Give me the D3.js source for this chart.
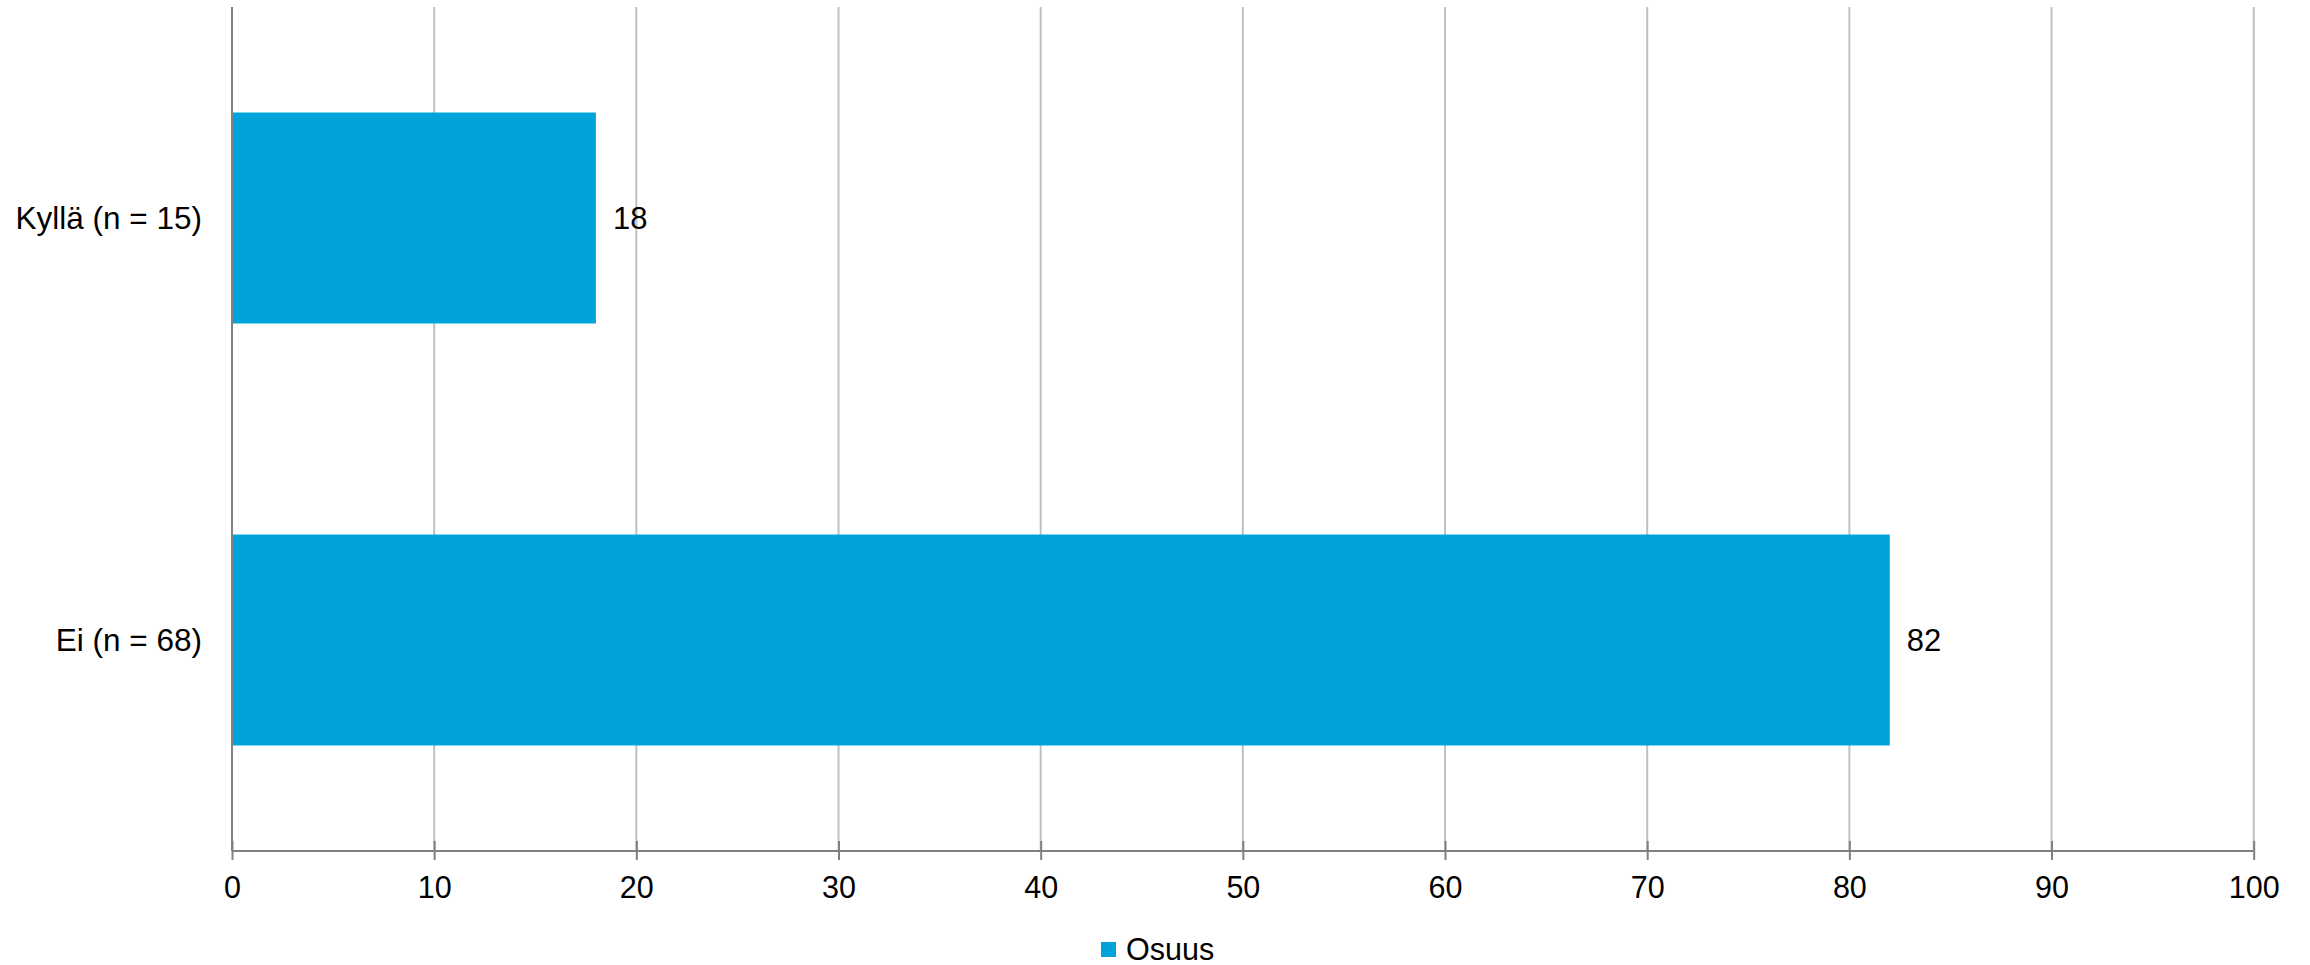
<!DOCTYPE html>
<html><head><meta charset="utf-8">
<script src="https://cdn.jsdelivr.net/npm/d3@7"></script>
<style>body{margin:0;background:#fff}svg{display:block}text{font-family:"Liberation Sans",Arial,sans-serif;fill:#000}</style>
</head><body>
<svg id="c" width="2310" height="965"></svg>
<script>
const categories = ["Kyllä (n = 15)", "Ei (n = 68)"];
const values = [18, 82];
const seriesName = "Osuus";
const xTicks = [0,10,20,30,40,50,60,70,80,90,100];

const svg = d3.select("#c");
const pL = 232, pR = 2253.7, pT = 7, pB = 851;
const x = d3.scaleLinear().domain([0,100]).range([pL,pR]);
const y = d3.scaleBand().domain(categories).range([pT,pB]).paddingInner(0.5).paddingOuter(0.25);
const color = "#02A3DA";

// gridlines
svg.append("g").selectAll("line").data(xTicks.filter(d=>d>0)).join("line")
  .attr("x1",d=>x(d)).attr("x2",d=>x(d)).attr("y1",pT).attr("y2",pB)
  .attr("stroke","#c0c0c0").attr("stroke-width",2);

// bars
svg.append("g").selectAll("rect").data(values).join("rect")
  .attr("x",x(0)).attr("y",(d,i)=>y(categories[i]))
  .attr("width",d=>x(d)-x(0)).attr("height",y.bandwidth()).attr("fill",color);

// x axis
const xAxis = d3.axisBottom(x).tickValues(xTicks).tickSize(9).tickPadding(16).tickFormat(d3.format("d"));
const gx = svg.append("g").attr("transform",`translate(0,${pB})`).call(xAxis);
gx.select(".domain").attr("stroke","#808080").attr("stroke-width",2).attr("d",`M${pL},0H${pR}`);
gx.selectAll(".tick line").attr("stroke","#808080").attr("stroke-width",2).attr("y1",-10);
gx.selectAll(".tick text").attr("font-size",30.5).attr("font-family","Liberation Sans, Arial, sans-serif").attr("fill","#000");

// y axis line
svg.append("line").attr("x1",pL).attr("x2",pL).attr("y1",pT).attr("y2",pB)
  .attr("stroke","#808080").attr("stroke-width",2);

// category labels
svg.append("g").selectAll("text").data(categories).join("text")
  .attr("x",pL-30).attr("y",d=>y(d)+y.bandwidth()/2).attr("dy","0.35em")
  .attr("text-anchor","end").attr("font-size",31.5).text(d=>d);

// value labels
svg.append("g").selectAll("text").data(values).join("text")
  .attr("x",d=>x(d)+17).attr("y",(d,i)=>y(categories[i])+y.bandwidth()/2).attr("dy","0.35em")
  .attr("font-size",31).text(d=>d);

// legend
const lg = svg.append("g");
lg.append("rect").attr("x",1101).attr("y",942).attr("width",15).attr("height",15).attr("fill",color);
lg.append("text").attr("x",1126).attr("y",960).attr("font-size",30.5).text(seriesName);
</script>
</body></html>
